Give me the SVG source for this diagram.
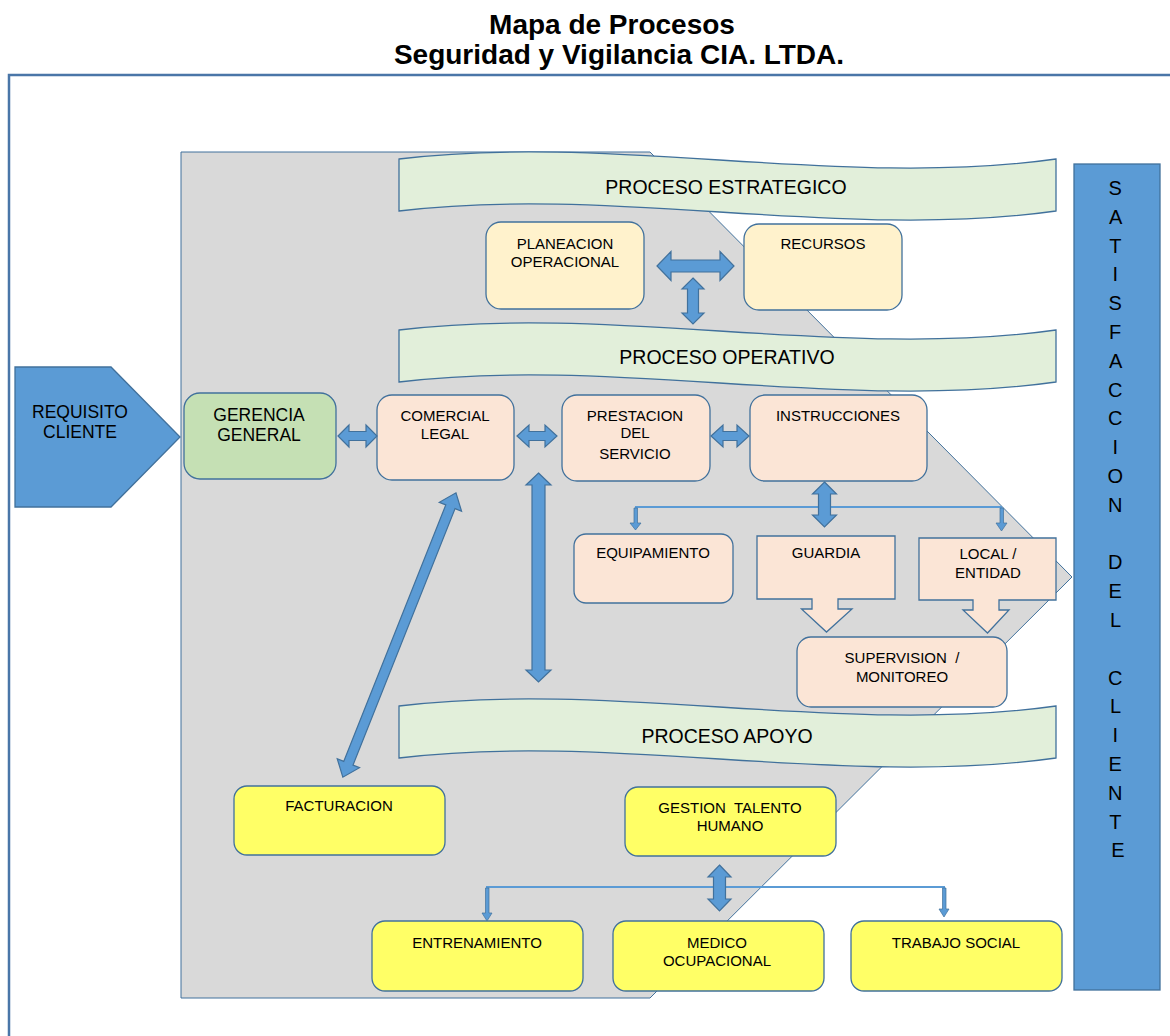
<svg xmlns="http://www.w3.org/2000/svg" width="1170" height="1036" viewBox="0 0 1170 1036">
  <style>
    .t { font-family: "Liberation Sans", Arial, sans-serif; font-size: 15px; fill: #000; text-anchor: middle; }
    .big { font-size: 17.5px; }
    .band { font-size: 19.5px; }
    .title { font-family: "Liberation Sans", Arial, sans-serif; font-size: 28px; font-weight: bold; fill: #000; text-anchor: middle; }
    .sk { stroke: #41719c; stroke-width: 1.3; }
    .peach { fill: #fbe5d6; }
    .cream { fill: #fff2cc; }
    .green { fill: #c5e0b4; }
    .yellow { fill: #ffff66; }
    .blue { fill: #5b9bd5; }
    .wave { fill: #e2efda; stroke: #41719c; stroke-width: 1.3; }
    .arr { fill: #5b9bd5; stroke: #41719c; stroke-width: 1.2; stroke-linejoin: miter; }
    .thin { fill: #5b9bd5; stroke: #41719c; stroke-width: 0.7; }
    .line { stroke: #5b9bd5; stroke-width: 2; fill: none; }
  </style>
  <defs>
    <path id="wave" d="M0,0 C212,-26 445,30 657,0 L657,52 C445,82 212,26 0,52 Z"/>
  </defs>

  <!-- title -->
  <text class="title" x="612" y="34">Mapa de Procesos</text>
  <text class="title" x="619" y="64">Seguridad y Vigilancia CIA. LTDA.</text>

  <!-- outer frame -->
  <path d="M9,1036 L9,75 L1170,75" fill="none" stroke="#4a76a8" stroke-width="2.5"/>

  <!-- grey process area -->
  <polygon points="181,152 650,152 1072,577 650,998 181,998" fill="#d9d9d9" stroke="#41719c" stroke-width="1"/>

  <!-- bands -->
  <g id="band-estrategico">
    <use href="#wave" class="wave" transform="translate(399,159)"/>
    <text class="t band" x="726" y="194">PROCESO ESTRATEGICO</text>
  </g>
  <g id="band-operativo">
    <use href="#wave" class="wave" transform="translate(399,330)"/>
    <text class="t band" x="727" y="364">PROCESO OPERATIVO</text>
  </g>
  <g id="band-apoyo">
    <use href="#wave" class="wave" transform="translate(399,706)"/>
    <text class="t band" x="727" y="743">PROCESO APOYO</text>
  </g>

  <!-- strategic nodes -->
  <g id="planeacion">
    <rect class="sk cream" x="486" y="222" width="158" height="87" rx="15"/>
    <text class="t" x="565" y="249">PLANEACION</text>
    <text class="t" x="565" y="267">OPERACIONAL</text>
  </g>
  <g id="recursos">
    <rect class="sk cream" x="744" y="224" width="158" height="86" rx="15"/>
    <text class="t" x="823" y="249">RECURSOS</text>
  </g>

  <!-- input / output -->
  <g id="requisito">
    <polygon class="sk blue" points="15,367 111,367 180,437 111,507 15,507"/>
    <text class="t big" x="80" y="418">REQUISITO</text>
    <text class="t big" x="80" y="438">CLIENTE</text>
  </g>
  <g id="satisfaccion">
    <rect class="sk blue" x="1074" y="164" width="86" height="826"/>
    <text class="t" style="font-size:20px">
      <tspan x="1118" y="195">S</tspan>
      <tspan x="1118" y="223.8">A</tspan>
      <tspan x="1118" y="252.6">T</tspan>
      <tspan x="1118" y="281.4">I</tspan>
      <tspan x="1118" y="310.2">S</tspan>
      <tspan x="1118" y="339">F</tspan>
      <tspan x="1118" y="367.8">A</tspan>
      <tspan x="1118" y="396.6">C</tspan>
      <tspan x="1118" y="425.4">C</tspan>
      <tspan x="1118" y="454.2">I</tspan>
      <tspan x="1118" y="483">O</tspan>
      <tspan x="1118" y="511.8">N</tspan>
      <tspan x="1118" y="569.4">D</tspan>
      <tspan x="1118" y="598.2">E</tspan>
      <tspan x="1118" y="627">L</tspan>
      <tspan x="1118" y="684.6">C</tspan>
      <tspan x="1118" y="713.4">L</tspan>
      <tspan x="1118" y="742.2">I</tspan>
      <tspan x="1118" y="771">E</tspan>
      <tspan x="1118" y="799.8">N</tspan>
      <tspan x="1118" y="828.6">T</tspan>
      <tspan x="1118" y="857.4">E</tspan>
    </text>
  </g>

  <!-- operative nodes -->
  <g id="gerencia">
    <rect class="sk green" x="184" y="393" width="152" height="86" rx="16"/>
    <text class="t big" x="259" y="421">GERENCIA</text>
    <text class="t big" x="259" y="441">GENERAL</text>
  </g>
  <g id="comercial">
    <rect class="sk peach" x="377" y="395" width="137" height="85" rx="15"/>
    <text class="t" x="445" y="421">COMERCIAL</text>
    <text class="t" x="445" y="439">LEGAL</text>
  </g>
  <g id="prestacion">
    <rect class="sk peach" x="562" y="395" width="148" height="86" rx="15"/>
    <text class="t" x="635" y="421">PRESTACION</text>
    <text class="t" x="635" y="438">DEL</text>
    <text class="t" x="635" y="459">SERVICIO</text>
  </g>
  <g id="instrucciones">
    <rect class="sk peach" x="750" y="395" width="177" height="86" rx="15"/>
    <text class="t" x="838" y="421">INSTRUCCIONES</text>
  </g>
  <g id="equipamiento">
    <rect class="sk peach" x="574" y="534" width="159" height="69" rx="12"/>
    <text class="t" x="653" y="558">EQUIPAMIENTO</text>
  </g>
  <g id="guardia">
    <path class="sk peach" d="M757,536 L895,536 L895,599 L838,599 L838,609 L852,609 L826.5,632 L801.5,609 L812,609 L812,599 L757,599 Z"/>
    <text class="t" x="826" y="558">GUARDIA</text>
  </g>
  <g id="local">
    <path class="sk peach" d="M919,538 L1056,538 L1056,600 L999,600 L999,610 L1009,610 L987.5,633 L963,610 L973,610 L973,600 L919,600 Z"/>
    <text class="t" x="988" y="559">LOCAL /</text>
    <text class="t" x="988" y="578">ENTIDAD</text>
  </g>
  <g id="supervision">
    <rect class="sk peach" x="797" y="637" width="210" height="70" rx="14"/>
    <text class="t" x="902" y="663" xml:space="preserve">SUPERVISION  /</text>
    <text class="t" x="902" y="682">MONITOREO</text>
  </g>

  <!-- support nodes -->
  <g id="facturacion">
    <rect class="sk yellow" x="234" y="786" width="211" height="69" rx="13"/>
    <text class="t" x="339" y="811">FACTURACION</text>
  </g>
  <g id="talento">
    <rect class="sk yellow" x="625" y="787" width="211" height="69" rx="13"/>
    <text class="t" x="730" y="813" xml:space="preserve">GESTION  TALENTO</text>
    <text class="t" x="730" y="831">HUMANO</text>
  </g>
  <g id="entrenamiento">
    <rect class="sk yellow" x="372" y="921" width="211" height="70" rx="13"/>
    <text class="t" x="477" y="948">ENTRENAMIENTO</text>
  </g>
  <g id="medico">
    <rect class="sk yellow" x="613" y="921" width="211" height="70" rx="13"/>
    <text class="t" x="717" y="948">MEDICO</text>
    <text class="t" x="717" y="966">OCUPACIONAL</text>
  </g>
  <g id="trabajo">
    <rect class="sk yellow" x="851" y="921" width="211" height="70" rx="13"/>
    <text class="t" x="956" y="948">TRABAJO SOCIAL</text>
  </g>

  <!-- connectors -->
  <g id="connectors">
    <!-- planeacion <-> recursos -->
    <path class="arr" d="M657,266 L671,251.5 L671,260 L720,260 L720,251.5 L734,266 L720,280.5 L720,272 L671,272 L671,280.5 Z"/>
    <!-- strategic <-> operative -->
    <path class="arr" d="M693,278 L704,289 L698.5,289 L698.5,313 L704,313 L693,324 L682,313 L687.5,313 L687.5,289 L682,289 Z"/>
    <!-- gerencia <-> comercial -->
    <path class="arr" d="M338,436 L349,425 L349,431.5 L366,431.5 L366,425 L377,436 L366,447 L366,440.5 L349,440.5 L349,447 Z"/>
    <!-- comercial <-> prestacion -->
    <path class="arr" d="M517,436 L529,425 L529,431.5 L545,431.5 L545,425 L557,436 L545,447 L545,440.5 L529,440.5 L529,447 Z"/>
    <!-- prestacion <-> instrucciones -->
    <path class="arr" d="M711,436 L723,425 L723,431.5 L737,431.5 L737,425 L749,436 L737,447 L737,440.5 L723,440.5 L723,447 Z"/>
    <!-- operative branch line and drops -->
    <line class="line" x1="635" y1="507" x2="1002" y2="507"/>
    <path class="thin" d="M634,508 L637.5,508 L637.5,523 L641,523 L635.5,530 L630,523 L634,523 Z"/>
    <path class="thin" d="M1000,508 L1003.5,508 L1003.5,523 L1007,523 L1001.5,531 L996,523 L1000,523 Z"/>
    <!-- instrucciones <-> branch -->
    <path class="arr" d="M824.5,482 L836.5,494 L830.5,494 L830.5,515 L836.5,515 L824.5,527 L812.5,515 L818.5,515 L818.5,494 L812.5,494 Z"/>
    <!-- operative <-> support (vertical) -->
    <path class="arr" d="M538.5,473 L551,485 L545,485 L545,670 L551,670 L538.5,682 L526,670 L532,670 L532,485 L526,485 Z"/>
    <!-- comercial <-> facturacion (diagonal) -->
    <path class="arr" transform="translate(399.4,635) rotate(-68.3)" d="M-153,0 L-138,-12 L-138,-5 L138,-5 L138,-12 L153,0 L138,12 L138,5 L-138,5 L-138,12 Z"/>
    <!-- support branch line and drops -->
    <line class="line" x1="486" y1="887" x2="945" y2="887"/>
    <path class="thin" d="M485.5,888 L489,888 L489,913 L492,913 L487,921 L482,913 L485.5,913 Z"/>
    <path class="thin" d="M942.5,888 L946,888 L946,909 L949,909 L944,917 L939,909 L942.5,909 Z"/>
    <!-- talento <-> branch -->
    <path class="arr" d="M719.5,865 L731,877 L725.5,877 L725.5,899 L731,899 L719.5,911 L708,899 L713.5,899 L713.5,877 L708,877 Z"/>
  </g>
</svg>
